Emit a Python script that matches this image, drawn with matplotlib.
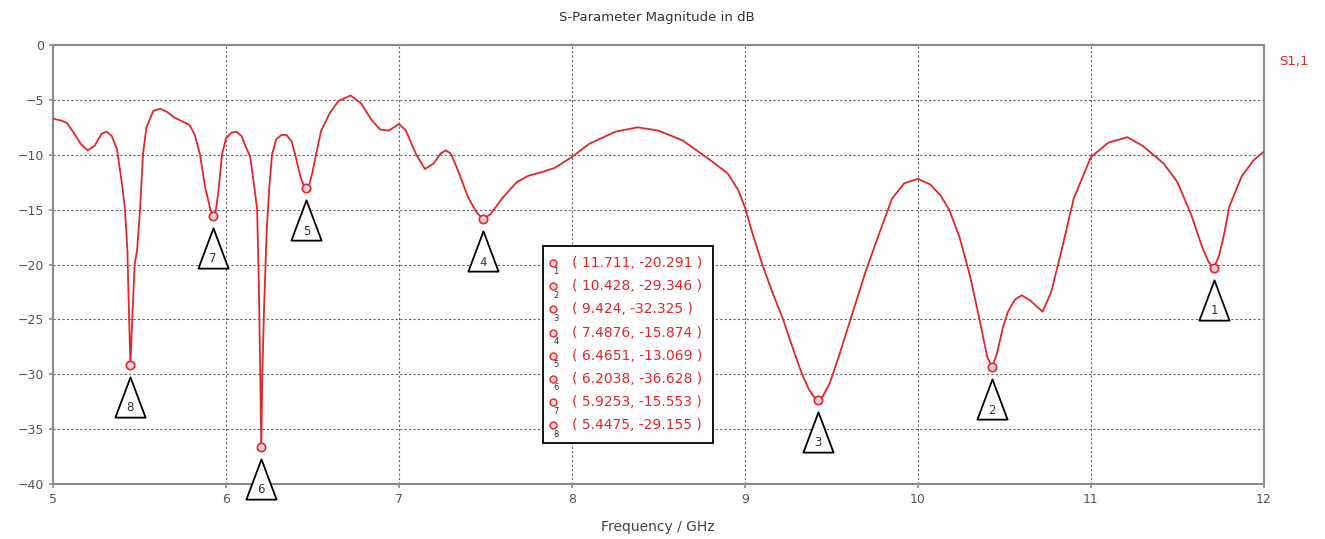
import matplotlib
matplotlib.use("Agg")
import matplotlib.pyplot as plt
from matplotlib.path import Path
from matplotlib.patches import Rectangle
from matplotlib.transforms import offset_copy

# S1,1 curve
freq = [5.00, 5.05, 5.08, 5.12, 5.16, 5.20, 5.24, 5.28, 5.31, 5.34, 5.37,
        5.40, 5.416, 5.43, 5.44, 5.4475, 5.458, 5.472, 5.486, 5.503, 5.52,
        5.54, 5.58, 5.62, 5.66, 5.70, 5.74, 5.79, 5.82, 5.85, 5.88, 5.91,
        5.9253, 5.94, 5.955, 5.977, 6.00, 6.03, 6.06, 6.09, 6.115, 6.14, 6.16,
        6.18, 6.19, 6.198, 6.2038, 6.21, 6.22, 6.235, 6.25, 6.266, 6.29,
        6.32, 6.35, 6.38, 6.40, 6.43, 6.45, 6.4651, 6.48, 6.50, 6.52, 6.55, 6.60,
        6.65, 6.72, 6.78, 6.84, 6.89, 6.94, 7.00, 7.04, 7.10, 7.15, 7.20,
        7.24, 7.27, 7.30, 7.34, 7.40, 7.45, 7.4876, 7.53, 7.60, 7.68, 7.75,
        7.82, 7.90, 8.00, 8.10, 8.25, 8.38, 8.50, 8.64, 8.72, 8.80, 8.90,
        8.96, 9.00, 9.04, 9.10, 9.16, 9.22, 9.28, 9.33, 9.37, 9.40, 9.424,
        9.45, 9.49, 9.54, 9.61, 9.70, 9.78, 9.85, 9.92, 10.00, 10.07, 10.13,
        10.18, 10.24, 10.30, 10.35, 10.40, 10.428, 10.455, 10.49, 10.52,
        10.56, 10.60, 10.65, 10.72, 10.77, 10.83, 10.90, 11.00, 11.10, 11.21,
        11.30, 11.42, 11.50, 11.58, 11.64, 11.68, 11.711, 11.74, 11.77, 11.80,
        11.87, 11.94, 12.00]
s11 = [-6.7, -6.9, -7.1, -8.0, -9.0, -9.6, -9.2, -8.1, -7.9, -8.3, -9.5,
       -12.8, -15.0, -18.7, -25.0, -29.155, -25.0, -20.0, -18.7, -15.0, -10.0,
       -7.5, -6.0, -5.8, -6.1, -6.6, -6.9, -7.3, -8.2, -10.0, -13.0, -15.0,
       -15.553, -15.2, -13.5, -10.0, -8.5, -8.0, -7.9, -8.3, -9.3, -10.2, -12.5,
       -15.0, -22.0, -30.0, -36.628, -30.0, -24.0, -17.0, -13.0, -10.0, -8.6,
       -8.2, -8.2, -8.8, -10.0, -12.0, -12.8, -13.069, -12.8, -11.6, -10.0, -7.8, -6.2,
       -5.1, -4.6, -5.3, -6.8, -7.7, -7.8, -7.2, -7.8, -10.0, -11.3, -10.8,
       -9.9, -9.6, -9.9, -11.4, -13.9, -15.3, -15.874, -15.4, -13.9, -12.5, -11.9,
       -11.6, -11.2, -10.2, -9.0, -7.9, -7.5, -7.8, -8.7, -9.6, -10.5, -11.7,
       -13.2, -14.8, -17.0, -20.0, -22.6, -25.0, -27.8, -30.0, -31.4, -32.1, -32.325,
       -32.0, -30.8, -28.5, -25.0, -20.5, -17.0, -14.0, -12.6, -12.2, -12.7, -13.7,
       -15.0, -17.5, -21.0, -24.6, -28.4, -29.346, -28.2, -25.8, -24.3,
       -23.2, -22.8, -23.3, -24.3, -22.5, -18.7, -14.0, -10.2, -8.9, -8.4,
       -9.2, -10.8, -12.5, -15.5, -18.3, -19.8, -20.291, -19.2, -17.2, -14.7,
       -12.0, -10.5, -9.7]

# markers
mk_id = [1, 2, 3, 4, 5, 6, 7, 8]
mk_f = [11.711, 10.428, 9.424, 7.4876, 6.4651, 6.2038, 5.9253, 5.4475]
mk_db = [-20.291, -29.346, -32.325, -15.874, -13.069, -36.628, -15.553, -29.155]
mk_flabel = ["11.711", "10.428", "9.424", "7.4876", "6.4651", "6.2038", "5.9253", "5.4475"]
mk_dblabel = ["-20.291", "-29.346", "-32.325", "-15.874", "-13.069", "-36.628", "-15.553", "-29.155"]

red = "#e3262c"
grey = "#555555"
plt.rcParams['font.family'] = ['DejaVu Sans']

fig = plt.figure(figsize=(13.25, 5.39), dpi=100)
ax = fig.add_axes([53 / 1325, 1 - 484 / 539, (1264 - 53) / 1325, (484 - 45) / 539])

ax.plot(freq, s11, color=red, lw=1.3, zorder=3)
ax.set_xlim(5, 12)
ax.set_ylim(-40, 0)
ax.set_xticks(range(5, 13))
ax.set_yticks(range(-40, 1, 5))
ax.grid(True, color="#666666", linestyle=(0, (2, 2)), linewidth=0.8)
for sp in ax.spines.values():
    sp.set_color("#8a8a8a")
    sp.set_linewidth(1.5)
ax.tick_params(colors="#8a8a8a", labelcolor=grey, labelsize=9, length=3, width=1.2)

# marker circles and triangles below them
ax.plot(mk_f, mk_db, 'o', ms=6, mfc="#fbd0d0", mec=red, mew=1.2, zorder=4)
tri = Path([(0, 1), (-0.75, -1), (0.75, -1), (0, 1)],
           [Path.MOVETO, Path.LINETO, Path.LINETO, Path.CLOSEPOLY])
tri_trans = offset_copy(ax.transData, fig=fig, x=0, y=-32, units='dots')
num_trans = offset_copy(ax.transData, fig=fig, x=0, y=-43, units='dots')
for n, f, d in zip(mk_id, mk_f, mk_db):
    ax.plot([f], [d], marker=tri, ms=29, mfc="white", mec="black", mew=1.3,
            transform=tri_trans, clip_on=False, zorder=5)
    ax.text(f, d, str(n), transform=num_trans, ha='center', va='center',
            fontsize=8.5, color="#333333", clip_on=False, zorder=6)

# marker table
box = Rectangle((543 / 1325, 1 - 443 / 539), 170 / 1325, 197 / 539,
                transform=fig.transFigure, facecolor="white", edgecolor="black",
                lw=1.3, zorder=7)
fig.add_artist(box)
for i, (n, fl, dl) in enumerate(zip(mk_id, mk_flabel, mk_dblabel)):
    yy = 1 - (263 + i * 23.2) / 539
    fig.add_artist(plt.Line2D([553 / 1325], [yy], marker='o', ms=5, mfc="#fbd0d0",
                              mec=red, mew=1, transform=fig.transFigure, zorder=8))
    fig.text(556 / 1325, yy - 9 / 539, str(n), fontsize=6, color="#333333",
             ha='center', va='center', zorder=8)
    fig.text(572 / 1325, yy, "( %s, %s )" % (fl, dl), fontsize=10, color=red,
             ha='left', va='center', zorder=8)

fig.text(657 / 1325, 1 - 18 / 539, "S-Parameter Magnitude in dB", fontsize=9.5,
         color="#333333", ha='center', va='center')
fig.text(658 / 1325, 1 - 527 / 539, "Frequency / GHz", fontsize=10,
         color="#444444", ha='center', va='center')
fig.text(1279 / 1325, 1 - 61 / 539, "S1,1", fontsize=9.5, color=red,
         ha='left', va='center')

fig.savefig("out.png", dpi=100)
